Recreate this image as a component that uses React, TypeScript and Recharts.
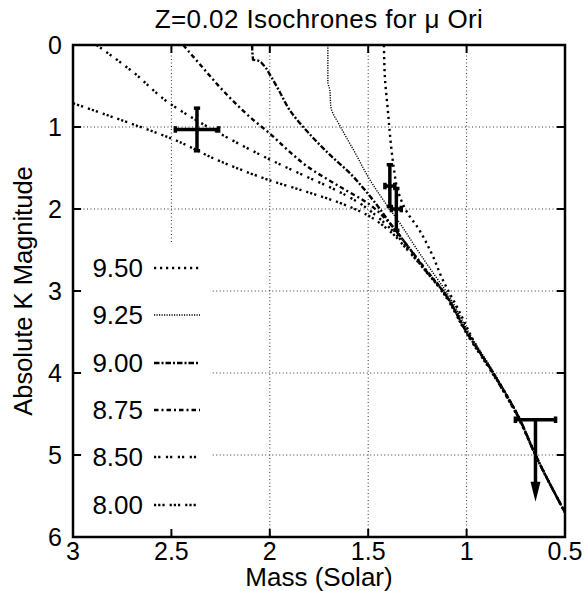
import React from 'react';
import {
  ComposedChart,
  Line,
  XAxis,
  YAxis,
  ReferenceLine,
  ReferenceArea,
  ReferenceDot,
  Legend,
  Customized,
} from 'recharts';

const FONT = '"Liberation Sans", Arial, Helvetica, sans-serif';

// ---- Isochrone data (mass in solar units, absolute K magnitude) ----
const mass950 = [1.42, 1.415, 1.40, 1.385, 1.37, 1.35, 1.30, 1.25, 1.18, 1.12, 1.05, 0.93, 0.86, 0.735, 0.65, 0.5];
const kmag950 = [0.0, 0.4, 0.8, 1.2, 1.5, 1.77, 2.05, 2.22, 2.53, 2.87, 3.19, 3.76, 4.03, 4.56, 5.0, 5.7];

const mass925 = [1.705, 1.705, 1.695, 1.69, 1.64, 1.57, 1.49, 1.40, 1.34, 1.25, 1.17, 1.10, 0.99, 0.86, 0.735, 0.65, 0.5];
const kmag925 = [0.0, 0.45, 0.55, 0.75, 1.0, 1.3, 1.65, 1.97, 2.17, 2.5, 2.78, 3.02, 3.5, 4.0, 4.54, 5.0, 5.7];

const mass900 = [2.09, 2.085, 2.06, 2.03, 2.0, 1.95, 1.9, 1.8, 1.69, 1.59, 1.52, 1.45, 1.39, 1.3, 1.2, 1.12, 1.0, 0.865, 0.735, 0.65, 0.5];
const kmag900 = [0.0, 0.18, 0.19, 0.25, 0.36, 0.57, 0.79, 1.08, 1.35, 1.57, 1.76, 1.97, 2.17, 2.45, 2.77, 3.0, 3.5, 4.0, 4.54, 5.0, 5.7];

const mass875 = [2.44, 2.35, 2.24, 2.1, 2.0, 1.9, 1.81, 1.65, 1.49, 1.4, 1.3, 1.2, 1.12, 1.0, 0.865, 0.735, 0.65, 0.5];
const kmag875 = [0.0, 0.25, 0.55, 0.88, 1.08, 1.30, 1.48, 1.72, 1.95, 2.15, 2.45, 2.76, 3.0, 3.5, 4.0, 4.54, 5.0, 5.7];

const mass850 = [2.88, 2.7, 2.51, 2.35, 2.2, 1.98, 1.8, 1.69, 1.55, 1.45, 1.37, 1.3, 1.2, 1.12, 1.0, 0.865, 0.735, 0.65, 0.5];
const kmag850 = [0.0, 0.32, 0.71, 0.95, 1.15, 1.42, 1.62, 1.74, 1.92, 2.1, 2.28, 2.48, 2.78, 3.0, 3.5, 4.0, 4.54, 5.0, 5.7];

const mass800 = [3.0, 2.75, 2.5, 2.25, 2.0, 1.8, 1.65, 1.5, 1.4, 1.3, 1.2, 1.12, 1.0, 0.865, 0.735, 0.65, 0.5];
const kmag800 = [0.71, 0.92, 1.14, 1.42, 1.65, 1.80, 1.92, 2.08, 2.25, 2.5, 2.78, 3.02, 3.52, 4.02, 4.55, 5.0, 5.7];

// ---- Observations with error bars ----
const obsMass = [2.37, 1.39, 1.357];
const obsK = [1.03, 1.72, 2.0];
const obsMassErr = [0.11, 0.025, 0.025];
const obsKLo = [0.77, 1.46, 1.75];
const obsKHi = [1.29, 1.97, 2.26];

// upper limit point
const limMass = [0.65];
const limK = [4.57];
const limMassErr = [0.102];
const limArrowK = [5.57];

// ---- Axes ----
const xTicks = [3, 2.5, 2, 1.5, 1, 0.5];
const yTicks = [0, 1, 2, 3, 4, 5, 6];
const xInner = [2.5, 2, 1.5, 1];
const yInner = [1, 2, 3, 4, 5];

const zip = (m: number[], k: number[]) => m.map((v, i) => ({ m: v, k: k[i] }));

const series = [
  { age: '9.50', data: zip(mass950, kmag950), dash: '2.2 3.8', width: 2.4 },
  { age: '9.25', data: zip(mass925, kmag925), dash: '1.2 1.3', width: 1.4 },
  { age: '9.00', data: zip(mass900, kmag900), dash: '5.5 2 2 2', width: 2.4 },
  { age: '8.75', data: zip(mass875, kmag875), dash: '4.5 3 2 3', width: 2.4 },
  { age: '8.50', data: zip(mass850, kmag850), dash: '2.2 2 2.2 5.5', width: 2.4 },
  { age: '8.00', data: zip(mass800, kmag800), dash: '2.2 2 2.2 2 2.2 5', width: 2.4 },
];

const W = 587;
const H = 591;
const M = { top: 45, right: 22, bottom: 0, left: 0 };
const TICK_X = 0.041; // inward tick length in mass units (~8px)
const TICK_Y = 0.098; // inward tick length in K units (~8px)
const CAP_X = 0.016;
const CAP_Y = 0.04;

const GRID = { stroke: '#333', strokeWidth: 1, strokeDasharray: '1 2.5' };
const BAR = { stroke: '#000', strokeWidth: 3.5 };

const LegendBox = () => {
  const rowY = [268, 315, 363, 410, 457, 505];
  return (
    <svg width={W} height={H} style={{ position: 'absolute', left: 0, top: 0 }}>
      {series.map((s, i) => (
        <g key={s.age}>
          <text x={143} y={rowY[i] + 9.3} textAnchor="end" fontSize={26} fontFamily={FONT} fill="#000">
            {s.age}
          </text>
          <line x1={154} x2={200} y1={rowY[i]} y2={rowY[i]} stroke="#000" strokeWidth={s.width} strokeDasharray={s.dash} />
        </g>
      ))}
    </svg>
  );
};

const Texts = () => (
  <g>
    <text x={319} y={28} textAnchor="middle" fontSize={26} fontFamily={FONT} fill="#000" letterSpacing={0.4}>
      Z=0.02 Isochrones for μ Ori
    </text>
    <text x={319} y={586} textAnchor="middle" fontSize={26} fontFamily={FONT} fill="#000">
      Mass (Solar)
    </text>
    <text x={32} y={291} textAnchor="middle" fontSize={25.5} fontFamily={FONT} fill="#000" transform="rotate(-90 32 291)">
      Absolute K Magnitude
    </text>
  </g>
);

const Arrow = (p: any) => {
  const { cx, cy } = p;
  return <polygon points={`${cx},${cy} ${cx - 5},${cy - 20} ${cx + 5},${cy - 20}`} fill="#000" />;
};

export default function App() {
  const tickStyle = { fontSize: 25, fontFamily: FONT, fill: '#000' };
  return (
    <div style={{ position: 'absolute', left: 0, top: 0, width: W, height: H, background: '#fff' }}>
      <ComposedChart width={W} height={H} margin={M}>
        <XAxis
          dataKey="m"
          type="number"
          domain={[0.5, 3]}
          reversed
          ticks={xTicks}
          allowDataOverflow
          axisLine={false}
          tickLine={false}
          tickSize={0}
          tickMargin={5}
          height={54}
          tick={tickStyle}
          interval={0}
        />
        <YAxis
          dataKey="k"
          type="number"
          domain={[0, 6]}
          reversed
          ticks={yTicks}
          allowDataOverflow
          axisLine={false}
          tickLine={false}
          tickSize={0}
          tickMargin={11}
          width={73}
          tick={tickStyle}
          interval={0}
        />

        {/* grid (partly hidden behind the key) */}
        <ReferenceLine segment={[{ x: 2.5, y: 0 }, { x: 2.5, y: 2.41 }]} {...GRID} />
        {[2, 1.5, 1].map((t) => (
          <ReferenceLine key={'gx' + t} segment={[{ x: t, y: 0 }, { x: t, y: 6 }]} {...GRID} />
        ))}
        {[1, 2].map((t) => (
          <ReferenceLine key={'gy' + t} segment={[{ x: 3, y: t }, { x: 0.5, y: t }]} {...GRID} />
        ))}
        {[3, 4, 5].map((t) => (
          <ReferenceLine key={'gyp' + t} segment={[{ x: 2.29, y: t }, { x: 0.5, y: t }]} {...GRID} />
        ))}

        {/* inward ticks */}
        {xInner.map((t) => (
          <ReferenceLine key={'tb' + t} segment={[{ x: t, y: 6 }, { x: t, y: 6 - TICK_Y }]} stroke="#000" strokeWidth={2} />
        ))}
        {xInner.map((t) => (
          <ReferenceLine key={'tt' + t} segment={[{ x: t, y: 0 }, { x: t, y: TICK_Y }]} stroke="#000" strokeWidth={2} />
        ))}
        {yInner.map((t) => (
          <ReferenceLine key={'tl' + t} segment={[{ x: 3, y: t }, { x: 3 - TICK_X, y: t }]} stroke="#000" strokeWidth={2} />
        ))}
        {yInner.map((t) => (
          <ReferenceLine key={'tr' + t} segment={[{ x: 0.5, y: t }, { x: 0.5 + TICK_X, y: t }]} stroke="#000" strokeWidth={2} />
        ))}

        {series.map((s) => (
          <Line
            key={s.age}
            name={s.age}
            data={s.data}
            dataKey="k"
            type="monotoneY"
            stroke="#000"
            strokeWidth={s.width}
            strokeDasharray={s.dash}
            dot={false}
            activeDot={false}
            isAnimationActive={false}
          />
        ))}

        {/* observation error bars */}
        {obsMass.map((m, i) => (
          <ReferenceLine key={'eh' + i} segment={[{ x: m + obsMassErr[i], y: obsK[i] }, { x: m - obsMassErr[i], y: obsK[i] }]} {...BAR} />
        ))}
        {obsMass.map((m, i) => (
          <ReferenceLine key={'ehc1' + i} segment={[{ x: m + obsMassErr[i], y: obsK[i] - CAP_Y }, { x: m + obsMassErr[i], y: obsK[i] + CAP_Y }]} {...BAR} />
        ))}
        {obsMass.map((m, i) => (
          <ReferenceLine key={'ehc2' + i} segment={[{ x: m - obsMassErr[i], y: obsK[i] - CAP_Y }, { x: m - obsMassErr[i], y: obsK[i] + CAP_Y }]} {...BAR} />
        ))}
        {obsMass.map((m, i) => (
          <ReferenceLine key={'ev' + i} segment={[{ x: m, y: obsKLo[i] }, { x: m, y: obsKHi[i] }]} {...BAR} />
        ))}
        {obsMass.map((m, i) => (
          <ReferenceLine key={'evc1' + i} segment={[{ x: m + CAP_X, y: obsKLo[i] }, { x: m - CAP_X, y: obsKLo[i] }]} {...BAR} />
        ))}
        {obsMass.map((m, i) => (
          <ReferenceLine key={'evc2' + i} segment={[{ x: m + CAP_X, y: obsKHi[i] }, { x: m - CAP_X, y: obsKHi[i] }]} {...BAR} />
        ))}

        {/* upper limit */}
        {limMass.map((m, i) => (
          <ReferenceLine key={'lh' + i} segment={[{ x: m + limMassErr[i], y: limK[i] }, { x: m - limMassErr[i], y: limK[i] }]} {...BAR} />
        ))}
        {limMass.map((m, i) => (
          <ReferenceLine key={'lc1' + i} segment={[{ x: m + limMassErr[i], y: limK[i] - CAP_Y }, { x: m + limMassErr[i], y: limK[i] + CAP_Y }]} {...BAR} />
        ))}
        {limMass.map((m, i) => (
          <ReferenceLine key={'lc2' + i} segment={[{ x: m - limMassErr[i], y: limK[i] - CAP_Y }, { x: m - limMassErr[i], y: limK[i] + CAP_Y }]} {...BAR} />
        ))}
        {limMass.map((m, i) => (
          <ReferenceLine key={'lv' + i} segment={[{ x: m, y: limK[i] }, { x: m, y: limArrowK[i] - 0.2 }]} {...BAR} />
        ))}
        {limMass.map((m, i) => (
          <ReferenceDot key={'la' + i} x={m} y={limArrowK[i]} r={0} shape={Arrow} />
        ))}

        {/* frame */}
        <ReferenceArea x1={3} x2={0.5} y1={0} y2={6} fill="none" fillOpacity={0} stroke="#000" strokeWidth={2.5} />

        <Customized component={Texts} />
        <Legend
          content={() => <LegendBox />}
          layout="vertical"
          align="center"
          verticalAlign="middle"
          wrapperStyle={{ position: 'absolute', left: 0, top: 0, width: W, height: H, pointerEvents: 'none' }}
        />
      </ComposedChart>
    </div>
  );
}
